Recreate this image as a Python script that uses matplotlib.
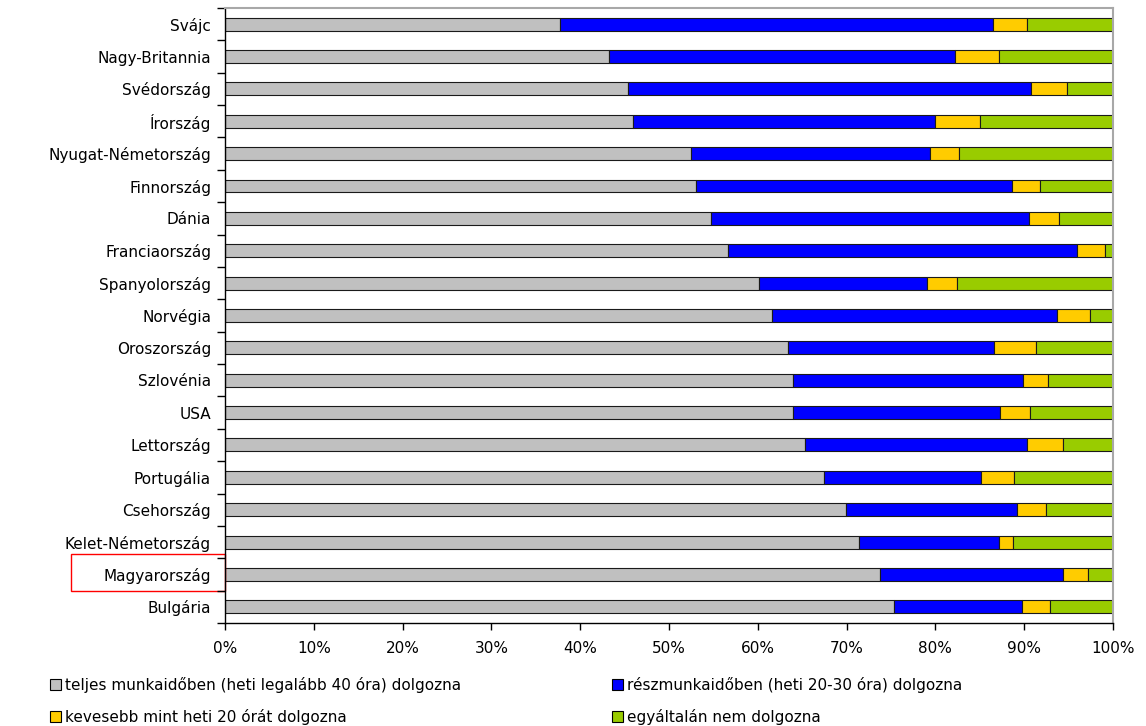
import numpy as np
import matplotlib
matplotlib.use('Agg')
import matplotlib.pyplot as plt
import matplotlib.transforms as mtransforms
from matplotlib.patches import Rectangle, Patch

plt.rcParams['font.family'] = 'DejaVu Sans'

countries = ['Svájc', 'Nagy-Britannia', 'Svédország', 'Írország', 'Nyugat-Németország',
             'Finnország', 'Dánia', 'Franciaország', 'Spanyolország', 'Norvégia',
             'Oroszország', 'Szlovénia', 'USA', 'Lettország', 'Portugália',
             'Csehország', 'Kelet-Németország', 'Magyarország', 'Bulgária']

# share of answers (%) per country
full_time = [37.7, 43.2, 45.4, 45.9, 52.5, 53.0, 54.7, 56.6, 60.1, 61.6,
             63.4, 64.0, 64.0, 65.3, 67.5, 69.9, 71.4, 73.8, 75.3]
part_time = [48.8, 39.0, 45.4, 34.0, 26.9, 35.6, 35.8, 39.3, 18.9, 32.1,
             23.2, 25.9, 23.3, 25.0, 17.6, 19.3, 15.8, 20.6, 14.5]
under_20 = [3.8, 5.0, 4.0, 5.1, 3.3, 3.2, 3.4, 3.2, 3.4, 3.7,
            4.7, 2.8, 3.4, 4.1, 3.7, 3.2, 1.5, 2.8, 3.1]
no_work = [9.7, 12.8, 5.2, 15.0, 17.3, 8.2, 6.1, 0.9, 17.6, 2.6,
           8.7, 7.3, 9.3, 5.6, 11.2, 7.6, 11.3, 2.8, 7.1]

series_labels = ['teljes munkaidőben (heti legalább 40 óra) dolgozna',
                 'részmunkaidőben (heti 20-30 óra) dolgozna',
                 'kevesebb mint heti 20 órát dolgozna',
                 'egyáltalán nem dolgozna']
colors = ['#C0C0C0', '#0000FF', '#FFCC00', '#99CC00']
xtick_labels = ['0%', '10%', '20%', '30%', '40%', '50%', '60%', '70%', '80%', '90%', '100%']
highlight = 'Magyarország'

fig = plt.figure(figsize=(11.46, 7.26), dpi=100)
ax = fig.add_axes([0.1963, 0.1419, 0.7749, 0.8471])

y = np.arange(len(countries))
left = np.zeros(len(countries))
for vals, col in zip([full_time, part_time, under_20, no_work], colors):
    vals = np.array(vals)
    ax.barh(y, vals, left=left, height=0.4, color=col, edgecolor='#1a1a1a', linewidth=0.8)
    left += vals

ax.set_xlim(0, 100)
ax.set_ylim(len(countries) - 0.5, -0.5)

ax.set_xticks(np.arange(0, 101, 10))
ax.set_xticklabels(xtick_labels, fontsize=11)
ax.tick_params(axis='x', direction='out', length=5, width=1, pad=8)

ax.set_yticks(y)
ax.set_yticklabels(countries, fontsize=11)
ax.set_yticks(np.arange(-0.5, len(countries), 1), minor=True)
ax.tick_params(axis='y', which='major', length=0, pad=10)
ax.tick_params(axis='y', which='minor', direction='out', length=6, width=1)

for s in ['left', 'bottom']:
    ax.spines[s].set_color('black')
    ax.spines[s].set_linewidth(1)
for s in ['top', 'right']:
    ax.spines[s].set_color('#A8A8A8')
    ax.spines[s].set_linewidth(1.5)

# red frame around the Hungarian label
idx = countries.index(highlight)
trans = mtransforms.blended_transform_factory(ax.transAxes, ax.transData)
box = Rectangle((-0.1734, idx + 0.51), 0.1734, -1.14, transform=trans,
                fill=False, edgecolor='red', linewidth=1.0, clip_on=False)
ax.add_patch(box)

handles = [Patch(facecolor=c, edgecolor='black', linewidth=0.8) for c in colors]
leg_kw = dict(frameon=False, fontsize=11, handlelength=0.7, handleheight=0.7,
              handletextpad=0.3, labelspacing=1.05, borderpad=0, borderaxespad=0)
fig.legend([handles[0], handles[2]], [series_labels[0], series_labels[2]],
           loc='upper left', bbox_to_anchor=(50 / 1146, 1 - 677 / 726), **leg_kw)
fig.legend([handles[1], handles[3]], [series_labels[1], series_labels[3]],
           loc='upper left', bbox_to_anchor=(612 / 1146, 1 - 677 / 726), **leg_kw)

fig.savefig('out.png', dpi=100)
